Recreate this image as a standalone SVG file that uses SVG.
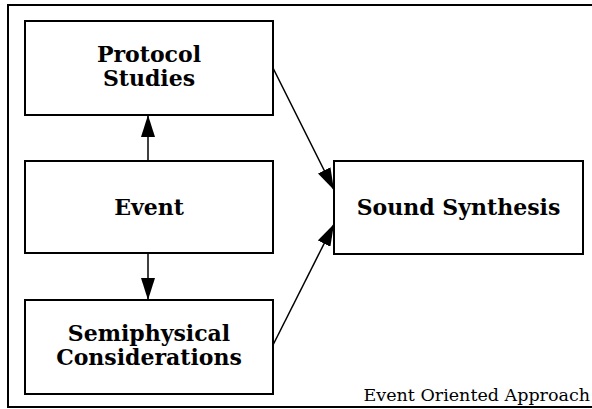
<svg xmlns="http://www.w3.org/2000/svg" width="592" height="409" viewBox="0 0 592 409">
<style>
.box{fill:#fff;stroke:#000;stroke-width:2}
.lbl{font-family:"DejaVu Serif","Liberation Serif",serif;font-weight:bold;font-size:22px;text-anchor:middle;fill:#000}
.cap{font-family:"DejaVu Serif","Liberation Serif",serif;font-size:17.5px;text-anchor:end;fill:#000}
.edge{stroke:#000;stroke-width:1.5;fill:none;marker-end:url(#ah)}
</style>
<defs>
<marker id="ah" viewBox="0 0 22 14" markerWidth="22" markerHeight="14" refX="22" refY="7" orient="auto" markerUnits="userSpaceOnUse">
<path d="M0,0 L22,7 L0,14 z" fill="#000"/>
</marker>
</defs>
<rect width="592" height="409" fill="#fff"/>
<rect x="8" y="5" width="600" height="402" fill="none" stroke="#000" stroke-width="2"/>
<g id="connectors">
<line class="edge" x1="148" y1="161" x2="148" y2="115"/>
<line class="edge" x1="148" y1="253" x2="148" y2="300"/>
<line class="edge" x1="273" y1="68" x2="334" y2="190"/>
<line class="edge" x1="273" y1="345" x2="334" y2="224"/>
</g>
<g id="protocol">
<rect class="box" x="25" y="21" width="248" height="94"/>
<text class="lbl" x="149" y="62">Protocol</text>
<text class="lbl" x="149" y="86">Studies</text>
</g>
<g id="event">
<rect class="box" x="25" y="161" width="248" height="92"/>
<text class="lbl" x="149" y="215">Event</text>
</g>
<g id="semiphysical">
<rect class="box" x="25" y="300" width="248" height="94"/>
<text class="lbl" x="149" y="341">Semiphysical</text>
<text class="lbl" x="149" y="365">Considerations</text>
</g>
<g id="sound">
<rect class="box" x="334" y="161" width="249" height="93"/>
<text class="lbl" x="458.5" y="215">Sound Synthesis</text>
</g>
<text class="cap" x="590" y="401">Event Oriented Approach</text>
</svg>
